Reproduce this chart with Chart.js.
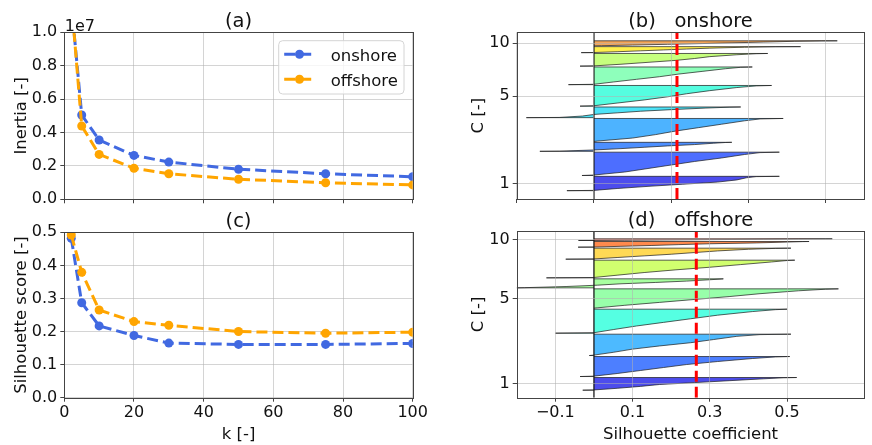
<!DOCTYPE html>
<html>
<head>
<meta charset="utf-8">
<title>Inertia, silhouette score and silhouette coefficients</title>
<script src="https://cdn.jsdelivr.net/npm/chart.js@4.4.1/dist/chart.umd.min.js"></script>
<style>
  html, body { margin: 0; padding: 0; background: #fff; }
  #figure { position: relative; width: 872px; height: 445px; overflow: hidden; background: #fff; }
  #figure canvas { position: absolute; left: 0; top: 0; }
</style>
</head>
<body>
<div id="figure">
  <canvas id="panel-a" width="872" height="445"></canvas>
  <canvas id="panel-b" width="872" height="445"></canvas>
  <canvas id="panel-c" width="872" height="445"></canvas>
  <canvas id="panel-d" width="872" height="445"></canvas>
</div>
<script>
// number of clusters tried
const kValues = [2, 5, 10, 20, 30, 50, 75, 100];

// (a) inertia
const inertiaOnshore = [1.18e7, 5.05e6, 3.55e6, 2.63e6, 2.23e6, 1.80e6, 1.53e6, 1.35e6];
const inertiaOffshore = [1.20e7, 4.39e6, 2.69e6, 1.86e6, 1.53e6, 1.20e6, 0.99e6, 0.86e6];

// (c) silhouette score
const scoreOnshore = [0.482, 0.287, 0.217, 0.188, 0.165, 0.161, 0.161, 0.164];
const scoreOffshore = [0.492, 0.379, 0.265, 0.230, 0.219, 0.200, 0.195, 0.198];

// (b), (d) sorted silhouette coefficients per cluster, read at these ranks inside each cluster
const silRanks = [0, 0.02, 0.15, 0.3, 0.45, 0.6, 0.75, 0.9, 0.98, 1];

const onshoreClusterSizes = [86, 140, 54, 138, 64, 124, 106, 76, 36, 30];
const onshoreSilhouette = [
  [-0.070, 0.00, 0.06, 0.14, 0.23, 0.32, 0.37, 0.395, 0.42, 0.48],
  [-0.031, 0.00, 0.08, 0.14, 0.20, 0.26, 0.33, 0.39, 0.43, 0.48],
  [-0.140, -0.09, 0.00, 0.07, 0.13, 0.19, 0.26, 0.31, 0.34, 0.357],
  [0.000, 0.01, 0.10, 0.16, 0.21, 0.27, 0.33, 0.39, 0.43, 0.49],
  [-0.175, -0.09, -0.03, 0.00, 0.06, 0.12, 0.20, 0.29, 0.35, 0.38],
  [-0.036, 0.00, 0.06, 0.13, 0.19, 0.24, 0.30, 0.37, 0.42, 0.46],
  [-0.066, 0.00, 0.05, 0.11, 0.17, 0.22, 0.28, 0.34, 0.38, 0.41],
  [-0.036, 0.00, 0.07, 0.14, 0.21, 0.26, 0.30, 0.37, 0.42, 0.45],
  [-0.033, 0.00, 0.06, 0.12, 0.18, 0.24, 0.30, 0.39, 0.47, 0.535],
  [0.000, 0.02, 0.10, 0.19, 0.28, 0.36, 0.44, 0.52, 0.59, 0.63],
];
const onshoreMeanSilhouette = 0.215;
const onshoreCTicks = [93, 616, 934];

const offshoreClusterSizes = [76, 120, 128, 144, 116, 54, 106, 66, 34, 10];
const offshoreSilhouette = [
  [-0.029, 0.00, 0.06, 0.12, 0.17, 0.26, 0.35, 0.44, 0.49, 0.525],
  [-0.036, 0.00, 0.06, 0.12, 0.18, 0.24, 0.32, 0.41, 0.47, 0.507],
  [-0.012, 0.00, 0.05, 0.10, 0.17, 0.25, 0.31, 0.37, 0.43, 0.51],
  [-0.100, 0.00, 0.05, 0.11, 0.18, 0.25, 0.32, 0.41, 0.47, 0.50],
  [0.000, 0.01, 0.08, 0.17, 0.26, 0.35, 0.43, 0.53, 0.60, 0.633],
  [-0.200, -0.18, -0.07, 0.01, 0.07, 0.16, 0.24, 0.30, 0.33, 0.335],
  [-0.123, 0.00, 0.06, 0.13, 0.21, 0.30, 0.38, 0.46, 0.50, 0.52],
  [-0.073, 0.00, 0.06, 0.13, 0.20, 0.26, 0.32, 0.40, 0.47, 0.51],
  [-0.041, 0.00, 0.07, 0.15, 0.22, 0.30, 0.42, 0.50, 0.54, 0.557],
  [-0.040, 0.00, 0.08, 0.17, 0.26, 0.35, 0.44, 0.53, 0.60, 0.617],
];
const offshoreMeanSilhouette = 0.265;
const offshoreCTicks = [83, 595, 947];

const cTickLabels = ["1", "5", "10"];
const coefTicksB = [-0.2, 0, 0.2, 0.4, 0.6];
const coefTicksD = [-0.1, 0.1, 0.3, 0.5];

// styling
const FONT = '"DejaVu Sans", sans-serif';
const TEXT = "#111";
const GRID = "rgba(176, 176, 176, 0.55)";
const SPINE = "#444";
const EDGE = "rgba(30, 30, 30, 0.8)";
const BLUE = "#4169e1";
const ORANGE = "#ffa500";
const onshoreColors = ["#4d4ded", "#4d6eff", "#4d8fff", "#4db3ff", "#4de3f7", "#55fde0", "#8effbb", "#c6ff7e", "#fff04d", "#f5a65a"];
const offshoreColors = ["#4d4ded", "#4d7fff", "#4dbaff", "#55ffe2", "#98ffaa", "#a8ffa0", "#d1ff6f", "#ffd955", "#ff8a4d", "#f25c4d"];

Chart.defaults.font.family = FONT;
Chart.defaults.font.size = 16;
Chart.defaults.color = TEXT;

const Y_AXIS_W = 60;
const X_AXIS_H = 30;

const areas = {
  a: { left: 64.3, top: 32.3, right: 412.7, bottom: 199.3 },
  b: { left: 516.7, top: 32.3, right: 864.3, bottom: 199 },
  c: { left: 64.3, top: 232.3, right: 412.7, bottom: 397.7 },
  d: { left: 516.7, top: 231, right: 864.3, bottom: 397.7 },
};

function paddingFor(area) {

  return {
    left: area.left - Y_AXIS_W,
    top: area.top,
    right: 872 - area.right,
    bottom: 445 - area.bottom - X_AXIS_H,
  };
}

function axis(min, max, extra) {

  const gridOnTop = extra.gridOnTop ? 1 : -1;
  return {
    type: "linear",
    min,
    max,
    afterFit: extra.position === "left" ? s => { s.width = Y_AXIS_W; } : s => { s.height = X_AXIS_H; },
    afterBuildTicks: extra.ticks ? s => { s.ticks = extra.ticks.map(v => ({ value: v })); } : undefined,
    position: extra.position,
    border: { display: false },
    grid: { color: GRID, lineWidth: 1, tickColor: SPINE, tickLength: 4, tickWidth: 1, z: gridOnTop },
    ticks: {
      autoSkip: false,
      padding: extra.position === "left" ? 3 : 2,
      color: TEXT,
      font: { size: 16 },
      stepSize: extra.step,
      callback: extra.label,
      maxRotation: 0,
    },
  };
}

function kSeries(values, color, order) {

  return {
    data: kValues.map((k, i) => ({ x: k, y: values[i] })),
    borderColor: color,
    backgroundColor: color,
    pointBackgroundColor: color,
    borderWidth: 3,
    borderDash: [11, 5],
    pointRadius: 4.5,
    pointHoverRadius: 4.5,
    pointBorderWidth: 0,
    tension: 0,
    fill: false,
    order,
  };
}

function silhouetteBands(sizes, profiles, colors, start, gap) {

  const sets = [];
  let lower = start;
  sizes.forEach((size, i) => {
    const points = [ { x: 0, y: lower } ];
    profiles[i].forEach((v, j) => points.push({ x: v, y: lower + size * silRanks[j] }));
    points.push({ x: 0, y: lower + size });
    sets.push({
      data: points,
      fill: "shape",
      backgroundColor: colors[i],
      borderColor: EDGE,
      borderWidth: 0.9,
      pointRadius: 0,
      tension: 0,
      order: 2,
    });
    lower += size + gap;
  });
  return sets;
}

function verticalLine(x, color, width, dash, order) {

  return {
    data: [ { x, y: 0 }, { x, y: 1000 } ],
    borderColor: color,
    borderWidth: width,
    borderDash: dash,
    pointRadius: 0,
    fill: false,
    order,
  };
}

// titles, axis labels, frame and the in-axes legend
const panelDecor = {
  id: "panelDecor",
  afterDraw(chart, args, opts) {

    const { ctx, chartArea: a } = chart;
    ctx.save();

    ctx.strokeStyle = SPINE;
    ctx.lineWidth = 1;
    ctx.strokeRect(Math.round(a.left) + 0.5, Math.round(a.top) + 0.5,
      Math.round(a.right) - Math.round(a.left), Math.round(a.bottom) - Math.round(a.top));

    ctx.fillStyle = TEXT;
    ctx.textAlign = "center";
    ctx.textBaseline = "alphabetic";
    ctx.font = `19.5px ${FONT}`;
    ctx.fillText(opts.title, (a.left + a.right) / 2, a.top - 5);

    ctx.font = `16.5px ${FONT}`;
    if (opts.xTitle) ctx.fillText(opts.xTitle, (a.left + a.right) / 2, a.bottom + 41);

    ctx.save();
    ctx.translate(opts.yTitleX, (a.top + a.bottom) / 2);
    ctx.rotate(-Math.PI / 2);
    ctx.fillText(opts.yTitle, 0, 0);
    ctx.restore();

    if (opts.offsetText) {
      ctx.textAlign = "left";
      ctx.font = `16px ${FONT}`;
      ctx.fillText(opts.offsetText, a.left + 0.5, a.top - 1.8);
    }

    if (opts.legend) {
      const lx = a.right - 134, ly = a.top + 8.4, lw = 125.3, lh = 53.3;
      ctx.beginPath();
      ctx.roundRect(lx, ly, lw, lh, 4);
      ctx.fillStyle = "rgba(255, 255, 255, 0.8)";
      ctx.fill();
      ctx.strokeStyle = "#d4d4d4";
      ctx.lineWidth = 1;
      ctx.stroke();
      opts.legend.forEach((item, i) => {
        const cy = ly + 13.6 + i * 25;
        ctx.strokeStyle = item.color;
        ctx.lineWidth = 3;
        ctx.setLineDash([11, 5]);
        ctx.beginPath();
        ctx.moveTo(lx + 5.5, cy);
        ctx.lineTo(lx + 34.5, cy);
        ctx.stroke();
        ctx.setLineDash([]);
        ctx.fillStyle = item.color;
        ctx.beginPath();
        ctx.arc(lx + 20.8, cy, 4.5, 0, Math.PI * 2);
        ctx.fill();
        ctx.fillStyle = TEXT;
        ctx.textAlign = "left";
        ctx.font = `16.5px ${FONT}`;
        ctx.fillText(item.label, lx + 52, cy + 6.3);
      });
    }

    ctx.restore();
  },
};

function makeChart(id, area, datasets, scales, decor) {

  return new Chart(document.getElementById(id), {
    type: "line",
    data: { datasets },
    options: {
      responsive: false,
      animation: false,
      devicePixelRatio: 1,
      events: [],
      layout: { padding: paddingFor(area) },
      plugins: { legend: { display: false }, tooltip: { enabled: false }, title: { display: false }, panelDecor: decor },
      scales,
    },
    plugins: [ panelDecor ],
  });
}

const oneDecimal = v => Number(v).toFixed(1);
const noLabel = () => "";

makeChart("panel-a", areas.a,
  [ kSeries(inertiaOffshore, ORANGE, 0), kSeries(inertiaOnshore, BLUE, 1) ],
  {
    x: axis(0, 100, { position: "bottom", step: 20, label: noLabel }),
    y: axis(0, 1e7, { position: "left", step: 2e6, label: v => (v / 1e7).toFixed(1) }),
  },
  {
    title: "(a)", yTitle: "Inertia [-]", yTitleX: 25.5, offsetText: "1e7",
    legend: [ { label: "onshore", color: BLUE }, { label: "offshore", color: ORANGE } ],
  });

makeChart("panel-c", areas.c,
  [ kSeries(scoreOffshore, ORANGE, 0), kSeries(scoreOnshore, BLUE, 1) ],
  {
    x: axis(0, 100, { position: "bottom", step: 20, label: v => String(v) }),
    y: axis(0, 0.5, { position: "left", step: 0.1, label: oneDecimal }),
  },
  { title: "(c)", xTitle: "k [-]", yTitle: "Silhouette score [-]", yTitleX: 25.5 });

makeChart("panel-b", areas.b,
  [
    verticalLine(onshoreMeanSilhouette, "#ff0000", 3, [11, 5], 0),
    verticalLine(0, "#1a1a1a", 1.3, [], 1),
    ...silhouetteBands(onshoreClusterSizes, onshoreSilhouette, onshoreColors, 50, 5),
  ],
  {
    x: axis(-0.2, 0.7, { position: "bottom", ticks: coefTicksB, label: noLabel, gridOnTop: true }),
    y: axis(0, 1000, { position: "left", ticks: onshoreCTicks, label: (v, i) => cTickLabels[i], gridOnTop: true }),
  },
  { title: "(b)   onshore", yTitle: "C [-]", yTitleX: 482.5 });

makeChart("panel-d", areas.d,
  [
    verticalLine(offshoreMeanSilhouette, "#ff0000", 3, [11, 5], 0),
    verticalLine(0, "#1a1a1a", 1.3, [], 1),
    ...silhouetteBands(offshoreClusterSizes, offshoreSilhouette, offshoreColors, 45, 6),
  ],
  {
    x: axis(-0.2, 0.7, {
      position: "bottom", ticks: coefTicksD, gridOnTop: true,
      label: v => (v < 0 ? "\u2212" + Math.abs(v).toFixed(1) : v.toFixed(1)),
    }),
    y: axis(0, 1000, { position: "left", ticks: offshoreCTicks, label: (v, i) => cTickLabels[i], gridOnTop: true }),
  },
  { title: "(d)   offshore", xTitle: "Silhouette coefficient", yTitle: "C [-]", yTitleX: 482.5 });
</script>
</body>
</html>
